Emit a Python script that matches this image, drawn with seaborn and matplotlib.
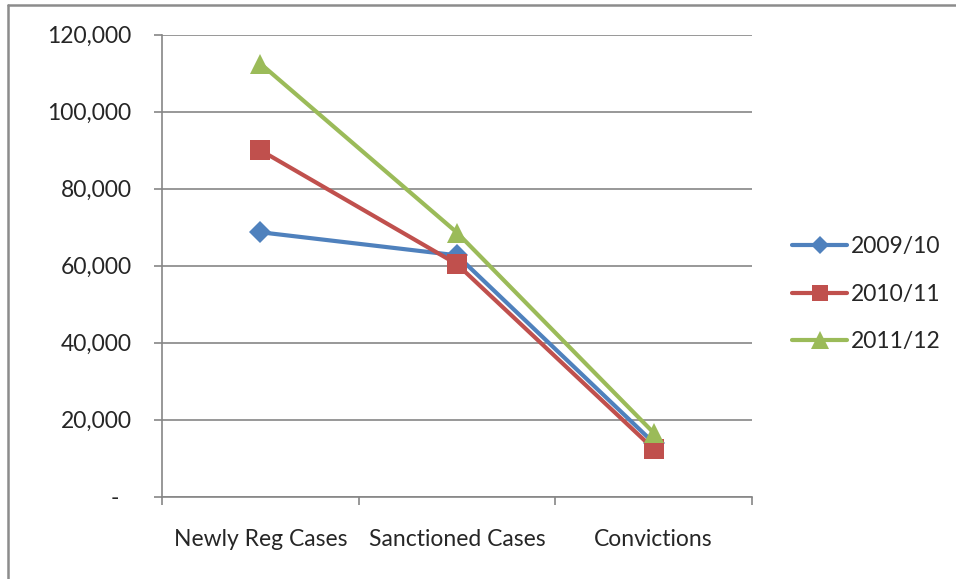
import matplotlib
matplotlib.use("Agg")
import matplotlib.pyplot as plt
from matplotlib.lines import Line2D
from matplotlib.ticker import FuncFormatter, FixedLocator
import seaborn as sns
import pandas as pd

# Case counts per stage and year
stages = ["Newly Reg Cases", "Sanctioned Cases", "Convictions"]
years = ["2009/10", "2010/11", "2011/12"]
cases_2009_10 = [68700, 62700, 14000]
cases_2010_11 = [90000, 60400, 12400]
cases_2011_12 = [112500, 68600, 16600]
y_ticks = [0, 20000, 40000, 60000, 80000, 100000, 120000]

colors = ["#4F81BD", "#C0504D", "#9BBB59"]
markers = ["D", "s", "^"]
marker_sizes = [11, 14, 15]

records = []
for year, vals in zip(years, [cases_2009_10, cases_2010_11, cases_2011_12]):
    for stage, v in zip(stages, vals):
        records.append({"stage": stage, "year": year, "cases": v})
df = pd.DataFrame(records)

sns.set_theme(style="white")
plt.rcParams["font.family"] = ["Lato", "DejaVu Sans"]
text_color = "#262626"
grid_color = "#868686"
fs = 16.5

fig = plt.figure(figsize=(9.56, 5.79), dpi=100)
ax = fig.add_axes([0.1695, 0.1421, 0.6171, 0.7979])

for year, col, mk, ms in zip(years, colors, markers, marker_sizes):
    sub = df[df["year"] == year]
    sns.lineplot(data=sub, x="stage", y="cases", ax=ax, color=col,
                 marker=mk, markersize=ms, markeredgewidth=0,
                 linewidth=3, legend=False, sort=False)

ax.set_xlim(-0.5, 2.5)
ax.set_ylim(0, 120000)
ax.set_xlabel("")
ax.set_ylabel("")

ax.yaxis.set_major_locator(FixedLocator(y_ticks))
ax.yaxis.set_major_formatter(FuncFormatter(
    lambda v, p: "-  " if v == 0 else f"{int(v):,}"))
ax.yaxis.grid(True, color=grid_color, linewidth=1.2)
ax.set_axisbelow(True)

ax.set_xticks([0, 1, 2])
ax.set_xticklabels(stages)
ax.set_xticks([-0.5, 0.5, 1.5, 2.5], minor=True)
ax.tick_params(axis="x", which="major", length=0, pad=23,
               labelsize=fs, labelcolor=text_color)
ax.tick_params(axis="x", which="minor", length=6, width=1.2,
               color=grid_color, direction="out", bottom=True)
ax.tick_params(axis="y", length=6, width=1.2, color=grid_color,
               direction="out", left=True, pad=16,
               labelsize=fs, labelcolor=text_color)

for side in ["top", "right"]:
    ax.spines[side].set_visible(False)
for side in ["left", "bottom"]:
    ax.spines[side].set_color(grid_color)
    ax.spines[side].set_linewidth(1.2)

handles = [Line2D([0], [0], color=c, marker=m, markersize=s * 0.85,
                  markeredgewidth=0, linewidth=3)
           for c, m, s in zip(colors, markers, marker_sizes)]
fig.legend(handles, years, loc="center left",
           bbox_to_anchor=(0.807, 0.492), frameon=False,
           fontsize=fs, labelcolor=text_color, handlelength=2.4,
           handletextpad=0.15, labelspacing=1.15)

# chart-area border (top and left edges)
fig.add_artist(Line2D([8 / 956, 1.0], [1 - 5 / 579, 1 - 5 / 579],
                      transform=fig.transFigure, color="#8c8c8c", linewidth=1.8))
fig.add_artist(Line2D([8 / 956, 8 / 956], [0.0, 1 - 5 / 579],
                      transform=fig.transFigure, color="#8c8c8c", linewidth=1.8))

fig.savefig("out.png", dpi=100, facecolor="white")
